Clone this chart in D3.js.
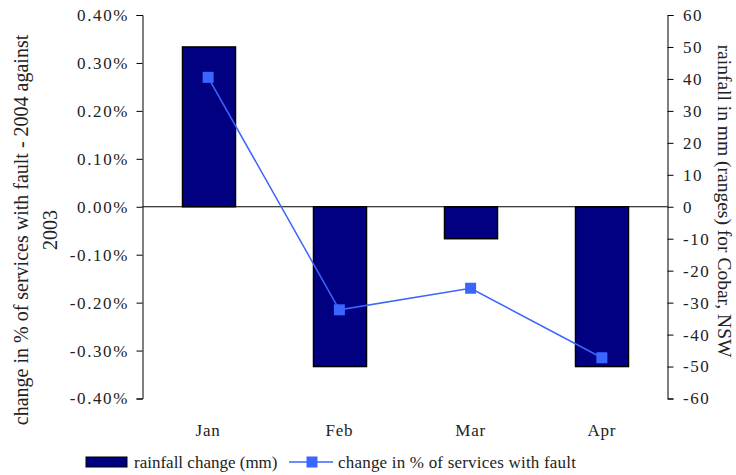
<!DOCTYPE html>
<html><head><meta charset="utf-8">
<script src="https://cdn.jsdelivr.net/npm/d3@7"></script>
<style>
body{margin:0;background:#fff;}
svg text{font-family:'Liberation Serif','DejaVu Serif',serif !important;fill:#222;}
</style></head>
<body><svg id="c" width="736" height="475"></svg>
<script>
const categories = ["Jan","Feb","Mar","Apr"];
const rainfall = [50,-50,-10,-50];
const faultChange = [0.0027,-0.00215,-0.0017,-0.00315];
const leftTicks = [-0.004,-0.003,-0.002,-0.001,0,0.001,0.002,0.003,0.004];
const rightTicks = [-60,-50,-40,-30,-20,-10,0,10,20,30,40,50,60];

const svg = d3.select("#c");
const L = 142.5, R = 667.5, T = 15, B = 398.5;
const xc = d3.scaleBand().domain(categories).range([L,R]);
const yl = d3.scaleLinear().domain([-0.004,0.004]).range([B,T]);
const yr = d3.scaleLinear().domain([-60,60]).range([B,T]);
const fs = 17;
const FONT = "'Liberation Serif','DejaVu Serif',serif";

// bars
svg.selectAll("rect.bar").data(categories).enter().append("rect")
  .attr("x", d=>Math.round(xc(d)+xc.bandwidth()/2-26.5)+0.5)
  .attr("width", 53)
  .attr("y", (d,i)=>Math.min(yr(0),yr(rainfall[i])))
  .attr("height",(d,i)=>Math.abs(yr(rainfall[i])-yr(0)))
  .attr("fill","#000080").attr("stroke","#000").attr("stroke-width",1.5);

// zero line
svg.append("line").attr("x1",L).attr("x2",R).attr("y1",yl(0)).attr("y2",yl(0)).attr("stroke","#000").attr("stroke-width",1);

// axes
const la = d3.axisLeft(yl).tickValues(leftTicks).tickSize(6).tickPadding(7.5).tickFormat(d3.format(".2%"));
const gl = svg.append("g").attr("transform",`translate(${L},0)`).call(la);
const ra = d3.axisRight(yr).tickValues(rightTicks).tickSize(6).tickPadding(9.5).tickFormat(d=>d);
const gr = svg.append("g").attr("transform",`translate(${R},0)`).call(ra);
[gl,gr].forEach(g=>{
  g.attr("font-family",FONT).attr("font-size",fs);
  g.select(".domain").attr("stroke","#000");
  g.selectAll(".tick line").attr("stroke","#000");
  g.selectAll(".tick text").attr("fill","#222").style("letter-spacing","1.6px");
});
gl.selectAll(".tick text").text(d=>d3.format(".2%")(d).replace("−","-"));
gr.selectAll(".tick text").text(d=>String(d));

const txt = (sel,size)=>sel.attr("font-family",FONT).attr("font-size",size||fs);

// category labels
svg.selectAll("text.cat").data(categories).enter().append("text")
  .attr("x",d=>xc(d)+xc.bandwidth()/2).attr("y",436)
  .attr("text-anchor","middle").call(txt).style("letter-spacing","0.8px").text(d=>d);

// line
const pts = categories.map((c,i)=>[xc(c)+xc.bandwidth()/2, yl(faultChange[i])]);
svg.append("path").attr("d",d3.line()(pts)).attr("fill","none").attr("stroke","#3a66ff").attr("stroke-width",1.5);
svg.selectAll("rect.mk").data(pts).enter().append("rect")
  .attr("x",d=>d[0]-5.5).attr("y",d=>d[1]-5.5).attr("width",11).attr("height",11).attr("fill","#3a66ff");

// axis titles
const lt = svg.append("text").attr("transform","translate(28,230) rotate(-90)").attr("text-anchor","middle").call(txt,20);
lt.append("tspan").attr("x",0).attr("dy",0).text("change in % of services with fault - 2004 against");
lt.append("tspan").attr("x",0).attr("dy",29).text("2003");
svg.append("text").attr("transform","translate(718,201) rotate(90)").attr("text-anchor","middle").call(txt,19.5)
  .text("rainfall in mm (ranges) for Cobar, NSW");

// legend
svg.append("rect").attr("x",86).attr("y",457).attr("width",41).attr("height",10).attr("fill","#000080").attr("stroke","#000").attr("stroke-width",1);
svg.append("text").attr("x",134).attr("y",468).call(txt).text("rainfall change (mm)");
svg.append("line").attr("x1",289).attr("x2",333).attr("y1",462).attr("y2",462).attr("stroke","#3a66ff").attr("stroke-width",1.5);
svg.append("rect").attr("x",306.5).attr("y",456.5).attr("width",11).attr("height",11).attr("fill","#3a66ff");
svg.append("text").attr("x",338).attr("y",468).call(txt).style("letter-spacing","0.2px").text("change in % of services with fault");
</script></body></html>
